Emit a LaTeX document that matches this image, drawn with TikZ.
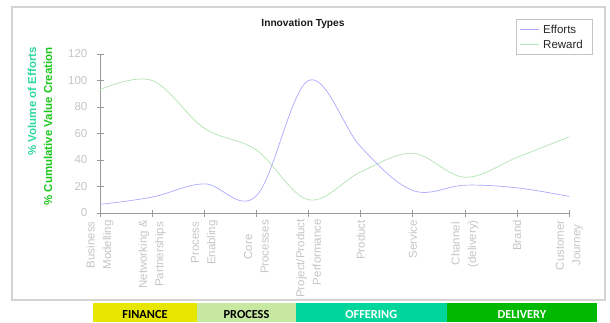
\documentclass[tikz,border=0pt]{standalone}
\usepackage{fontspec}
\setmainfont{Liberation Sans}
\newfontfamily\barfont{Carlito}
\definecolor{effc}{HTML}{ABABFF}
\definecolor{rewc}{HTML}{B4E4B4}
\definecolor{framec}{HTML}{D4D4D4}
\definecolor{legc}{HTML}{C4C4C4}
\definecolor{axisc}{HTML}{9A9A9A}
\definecolor{tickc}{HTML}{C6C6C6}
\definecolor{volc}{HTML}{2FD9A3}
\definecolor{cumc}{HTML}{1EC81E}
\definecolor{finc}{HTML}{E6E600}
\definecolor{proc}{HTML}{C6E8A0}
\definecolor{offc}{HTML}{00D69C}
\definecolor{delc}{HTML}{00B900}
\tikzset{
  effline/.style={draw=effc, line width=0.7pt},
  rewline/.style={draw=rewc, line width=0.7pt},
  axisline/.style={draw=axisc, line width=0.8pt},
  ticklab/.style={text=tickc, inner sep=0pt, font=\fontsize{11.5}{16.5}\selectfont},
  xlab/.style={ticklab, rotate=90, anchor=east, align=center},
  ytitle/.style={inner sep=0pt, rotate=90, anchor=east, font=\bfseries\fontsize{11.5}{14}\selectfont},
  legtext/.style={inner sep=0pt, anchor=west, text=black!85, font=\fontsize{11.5}{14}\selectfont},
  barseg/.style={inner sep=0pt, minimum height=18.7pt, text height=12.3pt, text depth=0pt, font=\barfont\bfseries\fontsize{12.3}{14}\selectfont},
}
\begin{document}
\begin{tikzpicture}[x=1pt,y=-1pt]
\useasboundingbox (0,0) rectangle (610,322);
\fill[white] (0,0) rectangle (610,322);
% frame
\draw[framec, line width=1.5pt] (12,7) rectangle (605,300);
% title
\node[inner sep=0pt, text=black!90, font=\bfseries\fontsize{10.2}{12}\selectfont] (title) at (303,23.5) {Innovation Types};
% legend
\node[draw=legc, line width=1pt, minimum width=75.6pt, minimum height=35pt, inner sep=0pt] (legend) at (554.5,36.5) {};
\coordinate (le1) at (520,29); \coordinate (le2) at (539,29);
\coordinate (lr1) at (520,44.3); \coordinate (lr2) at (539,44.3);
\draw[effline] (le1) -- (le2);
\draw[rewline] (lr1) -- (lr2);
\node[legtext] (leff) at (543,29) {Efforts};
\node[legtext] (lrew) at (543,44.3) {Reward};
% axis titles
\node[ytitle, text=volc] (vol) at (32,47) {\% Volume of Efforts};
\node[ytitle, text=cumc] (cum) at (48,47) {\% Cumulative Value Creation};
% chart
\begin{scope}[shift={(100,213)}, x=52.14pt, y=1.325pt]
  \coordinate (o) at (0,0);
  \coordinate (ytop) at (0,120);
  \coordinate (xend) at (9,0);
  \draw[axisline] (ytop) -- (o) -- (xend);
  \foreach \v in {0,20,...,120} {
    \draw[axisline] ([xshift=-3.5pt]0,\v) -- ([xshift=4pt]0,\v);
    \node[ticklab, anchor=east] (y\v) at ([xshift=-12.5pt]0,\v) {\v};
  }
  \foreach \i in {0,...,9} {
    \draw[axisline] ([yshift=3pt]\i,0) -- ([yshift=-3.5pt]\i,0);
  }
  \node[xlab] (x0) at ([yshift=-7pt]0,0) {Business\\Modelling};
  \node[xlab] (x1) at ([yshift=-7pt]1,0) {Networking \&\\Partnerships};
  \node[xlab] (x2) at ([yshift=-7pt]2,0) {Process\\Enabling};
  \node[xlab] (x3) at ([yshift=-7pt]3,0) {Core\\Processes};
  \node[xlab, align=right] (x4) at ([yshift=-6pt]4,0) {Project/Product\\Performance};
  \node[xlab] (x5) at ([yshift=-7pt]5,0) {Product};
  \node[xlab] (x6) at ([yshift=-7pt]6,0) {Service};
  \node[xlab] (x7) at ([yshift=-7pt]7,0) {Channel\\(delivery)};
  \node[xlab] (x8) at ([yshift=-7pt]8,0) {Brand};
  \node[xlab] (x9) at ([yshift=-7pt]9,0) {Customer\\Journey};
  \draw[rewline] plot[smooth, tension=0.6] coordinates {(0,93) (1,100) (2,64) (3,47.5) (4,10) (5,31) (6,45) (7,27) (8,42) (9,57.5)};
  \draw[effline] plot[smooth, tension=0.6] coordinates {(0,6.5) (1,12) (2,22) (3,13) (4,100) (5,50) (6,17) (7,21) (8,19) (9,12.5)};
\end{scope}
% bottom bar
\node[barseg, fill=finc, minimum width=104.6pt] (fin) at (145,312.65) {FINANCE};
\node[barseg, fill=proc, minimum width=98.4pt] (pro) at (246.5,312.65) {PROCESS};
\node[barseg, fill=offc, minimum width=151pt, text=white] (off) at (371.2,312.65) {OFFERING};
\node[barseg, fill=delc, minimum width=150.6pt, text=white] (del) at (522,312.65) {DELIVERY};
\end{tikzpicture}
\end{document}
